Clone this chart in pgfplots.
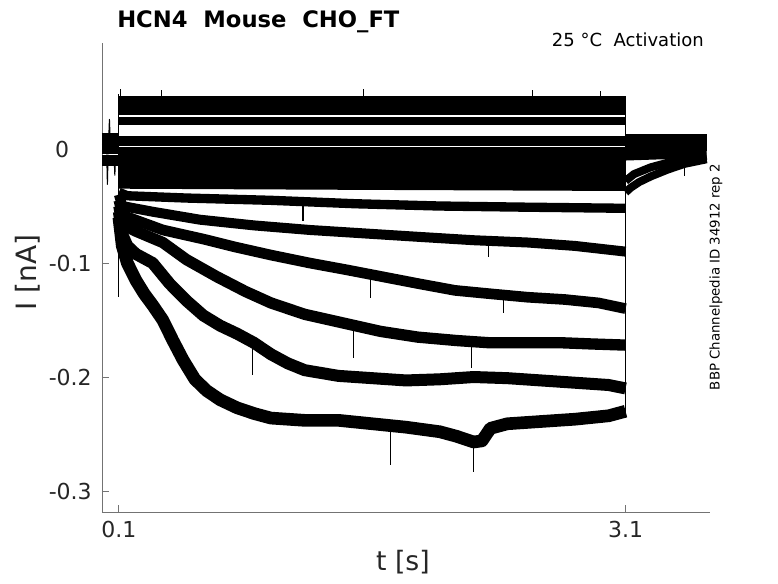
\documentclass[border=0pt]{standalone}
\usepackage{pgfplots}
\pgfplotsset{compat=1.18}
\usepackage{fontspec}
\setmainfont{DejaVu Sans}
\begin{document}
\begin{tikzpicture}
\useasboundingbox (-76.5pt,-53.25pt) rectangle (507pt,384pt);
\begin{axis}[
  at={(0pt,0pt)}, anchor=south west,
  scale only axis, width=456pt, height=351.75pt,
  xmin=0, xmax=3.6, ymin=-0.3184, ymax=0.093,
  axis lines=left,
  axis line style={-, draw=black!55, line width=0.6pt},
  tick align=inside, major tick length=5.5pt,
  every tick/.style={draw=black!55, line width=0.6pt},
  xtick={0.1,3.1}, xticklabels={0.1,3.1},
  ytick={-0.3,-0.2,-0.1,0}, yticklabels={-0.3,-0.2,-0.1,0\hspace*{17pt}},
  xticklabel style={anchor=base, inner sep=0pt, yshift=-18.75pt, font=\fontsize{16.5pt}{18pt}\selectfont, text=black!85},
  yticklabel style={anchor=east, inner sep=0pt, xshift=-7.5pt, font=\fontsize{16.5pt}{18pt}\selectfont, text=black!85},
  no markers,
  every axis plot/.append style={black, line join=round},
]
% pre-step holding
\addplot[line width=8pt] coordinates {(0,0.009) (0.1,0.009)};
\addplot[line width=8pt] coordinates {(0,0.000) (0.1,0.000)};
\addplot[line width=8pt] coordinates {(0,-0.010) (0.1,-0.010)};
\addplot[line width=0.8pt] coordinates {(0.028,-0.005) (0.032,-0.031) (0.036,-0.005)};
\addplot[line width=0.8pt] coordinates {(0.040,0.010) (0.044,0.026) (0.048,0.010)};
\addplot[line width=0.8pt] coordinates {(0.072,-0.008) (0.076,-0.023) (0.080,-0.008)};
% step, flat traces
\addplot[line width=7pt] coordinates {(0.1,0.042) (3.1,0.042)};
\addplot[line width=7pt] coordinates {(0.1,0.034) (3.1,0.034)};
\addplot[line width=6pt] coordinates {(0.1,0.0245) (3.1,0.0245)};
\addplot[line width=7pt] coordinates {(0.1,0.007) (3.1,0.007)};
\addplot[line width=7pt] coordinates {(0.1,-0.002) (3.1,-0.002)};
\addplot[line width=7pt] coordinates {(0.1,-0.0105) (3.1,-0.0105)};
\addplot[line width=7pt] coordinates {(0.1,-0.019) (3.1,-0.019)};
\addplot[line width=6pt] coordinates {(0.1,-0.026) (3.1,-0.026)};
\addplot[line width=6.5pt] coordinates {(0.1,-0.031) (1.5,-0.032) (3.1,-0.033)};
% trace F
\addplot[line width=7pt] coordinates {(0.1,-0.038) (0.15,-0.041) (0.5,-0.043) (1.0,-0.045) (1.5,-0.048) (2.0,-0.050) (2.5,-0.051) (3.1,-0.052)};
% trace E
\addplot[line width=7.5pt] coordinates {(0.1,-0.040) (0.12,-0.050) (0.3,-0.055) (0.58,-0.062) (0.9,-0.067) (1.23,-0.071) (1.55,-0.074) (1.87,-0.077) (2.2,-0.080) (2.52,-0.082) (2.8,-0.085) (3.1,-0.090)};
% trace D
\addplot[line width=8pt] coordinates {(0.1,-0.045) (0.12,-0.058) (0.36,-0.071) (0.6,-0.079) (0.79,-0.086) (1.0,-0.093) (1.23,-0.100) (1.45,-0.106) (1.66,-0.112) (1.87,-0.118) (2.09,-0.124) (2.3,-0.127) (2.52,-0.130) (2.74,-0.132) (2.94,-0.135) (3.1,-0.140)};
% trace C
\addplot[line width=8.5pt] coordinates {(0.1,-0.050) (0.12,-0.066) (0.2,-0.072) (0.36,-0.082) (0.5,-0.097) (0.68,-0.112) (0.85,-0.125) (1.0,-0.135) (1.2,-0.145) (1.44,-0.153) (1.65,-0.160) (1.87,-0.165) (2.1,-0.168) (2.3,-0.170) (2.5,-0.170) (2.73,-0.170) (2.9,-0.171) (3.1,-0.172)};
% trace B
\addplot[line width=9pt] coordinates {(0.1,-0.055) (0.12,-0.075) (0.15,-0.085) (0.2,-0.092) (0.3,-0.100) (0.4,-0.118) (0.5,-0.133) (0.6,-0.146) (0.7,-0.155) (0.8,-0.162) (0.9,-0.170) (1.0,-0.180) (1.1,-0.188) (1.2,-0.194) (1.4,-0.199) (1.6,-0.201) (1.8,-0.203) (2.0,-0.202) (2.2,-0.200) (2.4,-0.201) (2.6,-0.203) (2.8,-0.205) (3.0,-0.207) (3.1,-0.210)};
% trace A
\addplot[line width=9.5pt] coordinates {(0.1,-0.060) (0.12,-0.085) (0.15,-0.100) (0.2,-0.115) (0.25,-0.127) (0.3,-0.137) (0.36,-0.150) (0.42,-0.168) (0.48,-0.185) (0.55,-0.202) (0.62,-0.212) (0.7,-0.220) (0.8,-0.227) (0.9,-0.232) (1.0,-0.236) (1.2,-0.238) (1.4,-0.238) (1.6,-0.241) (1.8,-0.244) (2.0,-0.248) (2.1,-0.252) (2.2,-0.257) (2.25,-0.256) (2.3,-0.245) (2.4,-0.241) (2.6,-0.239) (2.8,-0.237) (3.0,-0.234) (3.1,-0.230)};
% spikes
\addplot[line width=0.8pt] coordinates {(1.49,-0.150) (1.49,-0.183)};
\addplot[line width=0.8pt] coordinates {(1.71,-0.245) (1.71,-0.277)};
\addplot[line width=0.8pt] coordinates {(2.20,-0.255) (2.20,-0.283)};
\addplot[line width=0.8pt] coordinates {(2.19,-0.165) (2.19,-0.192)};
\addplot[line width=0.8pt] coordinates {(0.89,-0.172) (0.89,-0.198)};
\addplot[line width=0.8pt] coordinates {(1.59,-0.108) (1.59,-0.131)};
\addplot[line width=0.8pt] coordinates {(2.38,-0.128) (2.38,-0.144)};
\addplot[line width=0.8pt] coordinates {(1.19,-0.045) (1.19,-0.063)};
\addplot[line width=0.8pt] coordinates {(2.29,-0.082) (2.29,-0.095)};
\addplot[line width=0.8pt] coordinates {(0.11,0.044) (0.11,0.053)};
\addplot[line width=0.8pt] coordinates {(0.35,0.045) (0.35,0.052)};
\addplot[line width=0.8pt] coordinates {(1.55,0.045) (1.55,0.053)};
\addplot[line width=0.8pt] coordinates {(2.55,0.045) (2.55,0.052)};
\addplot[line width=0.8pt] coordinates {(2.95,0.045) (2.95,0.051)};
% transients
\addplot[line width=0.8pt] coordinates {(0.1,0.048) (0.1,-0.130)};
\addplot[line width=0.8pt] coordinates {(3.1,0.043) (3.1,-0.236)};
% tail
\addplot[line width=7pt] coordinates {(3.1,0.009) (3.58,0.009)};
\addplot[line width=7pt] coordinates {(3.1,0.002) (3.58,0.002)};
\addplot[line width=7pt] coordinates {(3.1,-0.006) (3.3,-0.005) (3.58,-0.004)};
\addplot[line width=6pt] coordinates {(3.1,-0.028) (3.15,-0.022) (3.25,-0.016) (3.35,-0.012) (3.45,-0.009) (3.58,-0.006)};
\addplot[line width=6pt] coordinates {(3.1,-0.038) (3.13,-0.034) (3.18,-0.029) (3.25,-0.024) (3.35,-0.018) (3.45,-0.013) (3.58,-0.009)};
\addplot[line width=0.8pt] coordinates {(3.45,-0.012) (3.45,-0.024)};
\end{axis}
\node[anchor=base west, inner sep=0pt, font=\bfseries\fontsize{17pt}{20pt}\selectfont] at (11.25pt,363pt) {HCN4\ \ Mouse\ \ CHO\_FT};
\node[anchor=base east, inner sep=0pt, font=\fontsize{13.5pt}{15pt}\selectfont] at (451.5pt,348.75pt) {25 °C\ \ Activation};
\node[rotate=90, anchor=center, inner sep=0pt, font=\fontsize{10pt}{12pt}\selectfont] at (460.5pt,176.25pt) {BBP Channelpedia ID 34912 rep 2};
\node[rotate=90, anchor=base, inner sep=0pt, font=\fontsize{21pt}{24pt}\selectfont, text=black!85] at (-48.75pt,179.6pt) {I [nA]};
\node[anchor=base, inner sep=0pt, font=\fontsize{20pt}{24pt}\selectfont, text=black!85] at (225.75pt,-43.5pt) {t [s]};
\end{tikzpicture}
\end{document}
